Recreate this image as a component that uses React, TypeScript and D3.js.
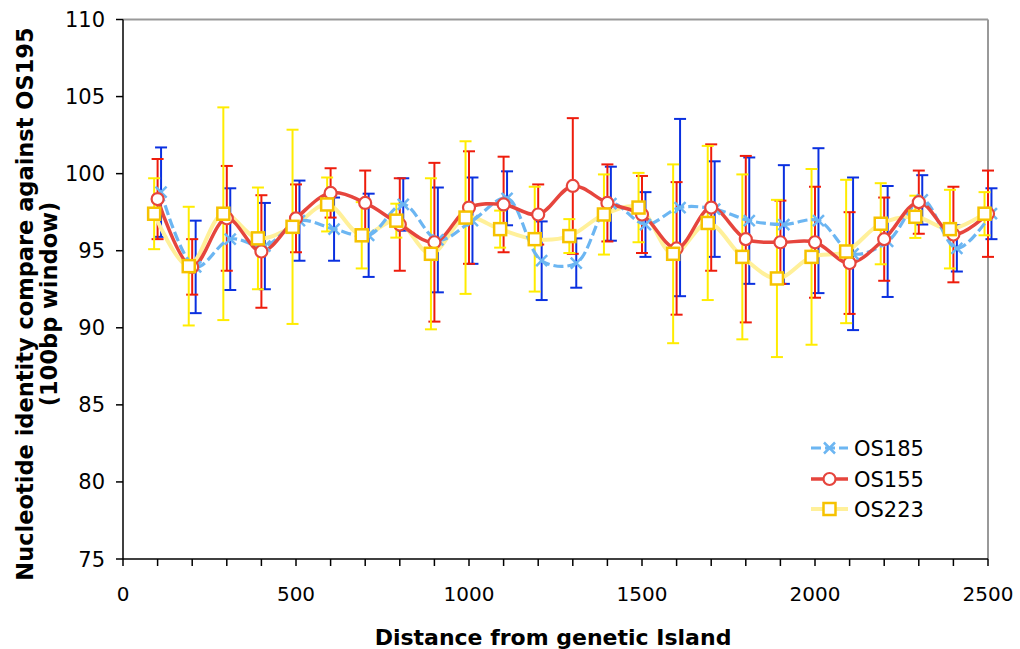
import React from "react";
import * as d3 from "d3";

const distances = [100, 200, 300, 400, 500, 600, 700, 800, 900, 1000, 1100, 1200, 1300, 1400, 1500, 1600, 1700, 1800, 1900, 2000, 2100, 2200, 2300, 2400, 2500];

const os185 = [98.8, 93.95, 95.75, 95.3, 96.95, 96.4, 96.0, 98.0, 95.7, 96.95, 98.4, 94.35, 94.2, 98.05, 96.7, 97.8, 97.7, 96.95, 96.7, 96.95, 94.8, 95.6, 98.3, 95.15, 97.4];
const os185Err = [2.9, 3.0, 3.3, 2.8, 2.6, 2.05, 2.7, 1.7, 3.4, 2.8, 1.75, 2.55, 1.6, 2.4, 2.1, 5.75, 3.1, 4.1, 3.85, 4.7, 4.95, 3.6, 1.6, 1.5, 1.65];

const os155 = [98.35, 93.95, 97.1, 94.95, 97.1, 98.75, 98.1, 96.7, 95.55, 97.8, 98.0, 97.35, 99.2, 98.1, 97.35, 95.15, 97.8, 95.75, 95.55, 95.55, 94.2, 95.75, 98.15, 96.05, 97.4];
const os155Err = [2.6, 1.8, 3.4, 3.65, 2.2, 1.6, 2.1, 3.0, 5.15, 3.65, 3.1, 1.95, 4.4, 2.5, 2.5, 4.3, 4.1, 5.4, 2.7, 3.6, 3.3, 2.7, 2.05, 3.1, 2.8];

const os223 = [97.4, 94.0, 97.4, 95.8, 96.55, 98.0, 96.0, 96.95, 94.8, 97.15, 96.4, 95.75, 95.95, 97.35, 97.8, 94.8, 96.8, 94.6, 93.2, 94.6, 94.95, 96.75, 97.2, 96.4, 97.4];
const os223Err = [2.3, 3.85, 6.9, 3.3, 6.3, 1.75, 2.15, 1.1, 4.9, 4.95, 1.2, 3.4, 1.1, 2.6, 2.25, 5.8, 5.0, 5.35, 5.1, 5.7, 4.65, 2.63, 1.37, 2.55, 1.4];

const seriesNames = ["OS185", "OS155", "OS223"];
const xOffsets = [10, 0, -10];

const xTickLabels = [0, 500, 1000, 1500, 2000, 2500];
const yTickLabels = [75, 80, 85, 90, 95, 100, 105, 110];

const FONT = "'DejaVu Sans', Verdana, sans-serif";

export default function App() {
  const left = 123, right = 988, top = 19.5, bottom = 559;
  const x = d3.scaleLinear().domain([0, 2500]).range([left, right]);
  const y = d3.scaleLinear().domain([75, 110]).range([bottom, top]);
  const minorTicks = d3.range(0, 2501, 100);

  const series = [
    { name: seriesNames[0], vals: os185, err: os185Err, off: xOffsets[0], line: "#6cb6f2", bar: "#0a30e0", dash: "10,4", lw: 3.2 },
    { name: seriesNames[1], vals: os155, err: os155Err, off: xOffsets[1], line: "#e6453d", bar: "#ee1c0c", dash: null, lw: 3.5 },
    { name: seriesNames[2], vals: os223, err: os223Err, off: xOffsets[2], line: "#fff09a", bar: "#ffec00", dash: null, lw: 4 },
  ];

  const lineGen = d3.line<[number, number]>()
    .x(d => x(d[0]))
    .y(d => y(d[1]))
    .curve(d3.curveCatmullRom.alpha(0.5));

  const pts = (s: typeof series[0]) => distances.map((d, i) => [d + s.off, s.vals[i]] as [number, number]);

  const cap = 6;

  const renderBars = (s: typeof series[0], key: string) => (
    <g key={key} stroke={s.bar} strokeWidth={2}>
      {distances.map((d, i) => {
        const cx = x(d + s.off);
        const y1 = y(s.vals[i] + s.err[i]);
        const y2 = y(s.vals[i] - s.err[i]);
        return (
          <g key={i}>
            <line x1={cx} x2={cx} y1={y1} y2={y2} />
            <line x1={cx - cap} x2={cx + cap} y1={y1} y2={y1} />
            <line x1={cx - cap} x2={cx + cap} y1={y2} y2={y2} />
          </g>
        );
      })}
    </g>
  );

  const marker = (idx: number, cx: number, cy: number, key: string | number) => {
    if (idx === 0) {
      const r = 5.5;
      return (
        <g key={key} stroke="#6cb6f2" strokeWidth={2.5}>
          <line x1={cx - r} y1={cy - r} x2={cx + r} y2={cy + r} />
          <line x1={cx - r} y1={cy + r} x2={cx + r} y2={cy - r} />
        </g>
      );
    }
    if (idx === 1) {
      return <circle key={key} cx={cx} cy={cy} r={6} fill="#fff" stroke="#e6453d" strokeWidth={2.2} />;
    }
    return <rect key={key} x={cx - 6} y={cy - 6} width={12} height={12} fill="#fff" stroke="#f6c200" strokeWidth={2.5} />;
  };

  const legendRows = [448, 479, 509];

  return (
    <svg width={1020} height={649} style={{ position: "absolute", left: 0, top: 0, background: "#fff" }} fontFamily={FONT}>
      <rect x={0} y={0} width={1020} height={649} fill="#fff" />
      {/* plot border */}
      <line x1={left} x2={right} y1={top} y2={top} stroke="#999" strokeWidth={2} />
      <line x1={right} x2={right} y1={top} y2={bottom} stroke="#999" strokeWidth={2} />

      {/* error bars */}
      {renderBars(series[0], "b0")}
      {renderBars(series[1], "b1")}
      {renderBars(series[2], "b2")}

      {/* lines */}
      <path d={lineGen(pts(series[2])) || ""} fill="none" stroke={series[2].line} strokeWidth={series[2].lw} />
      <path d={lineGen(pts(series[0])) || ""} fill="none" stroke={series[0].line} strokeWidth={series[0].lw} strokeDasharray={series[0].dash!} />
      <path d={lineGen(pts(series[1])) || ""} fill="none" stroke={series[1].line} strokeWidth={series[1].lw} />

      {/* markers */}
      {series.map((s, si) => (
        <g key={"m" + si}>
          {pts(s).map((p, i) => marker(si, x(p[0]), y(p[1]), i))}
        </g>
      ))}

      {/* axes */}
      <line x1={left} x2={left} y1={top} y2={bottom} stroke="#000" strokeWidth={1.5} />
      <line x1={left} x2={right} y1={bottom} y2={bottom} stroke="#000" strokeWidth={1.5} />
      {yTickLabels.map(v => (
        <g key={"yt" + v}>
          <line x1={left - 7} x2={left} y1={y(v)} y2={y(v)} stroke="#000" strokeWidth={1.5} />
          <text x={105} y={y(v)} dy="0.36em" textAnchor="end" fontSize={21} fill="#000">{v}</text>
        </g>
      ))}
      {minorTicks.map(v => (
        <line key={"xt" + v} x1={x(v)} x2={x(v)} y1={bottom} y2={bottom + 7} stroke="#000" strokeWidth={1.5} />
      ))}
      {xTickLabels.map(v => (
        <text key={"xl" + v} x={x(v)} y={601} textAnchor="middle" fontSize={20} fill="#000">{v}</text>
      ))}

      {/* axis titles */}
      <text x={553} y={645} textAnchor="middle" fontSize={22} fontWeight="bold" fill="#000">Distance from genetic Island</text>
      <g transform="translate(33,304) rotate(-90)">
        <text x={0} y={0} textAnchor="middle" fontSize={22.5} fontWeight="bold" fill="#000">Nucleotide identity compare against OS195</text>
        <text x={0} y={24} textAnchor="middle" fontSize={22.5} fontWeight="bold" fill="#000">(100bp window)</text>
      </g>

      {/* legend */}
      {series.map((s, si) => (
        <g key={"lg" + si}>
          <line x1={811} x2={848} y1={legendRows[si]} y2={legendRows[si]} stroke={s.line} strokeWidth={s.lw} strokeDasharray={s.dash || undefined} />
          {marker(si, 829.5, legendRows[si], "lm" + si)}
          <text x={854} y={legendRows[si]} dy="0.36em" fontSize={21} fill="#000">{s.name}</text>
        </g>
      ))}
    </svg>
  );
}
